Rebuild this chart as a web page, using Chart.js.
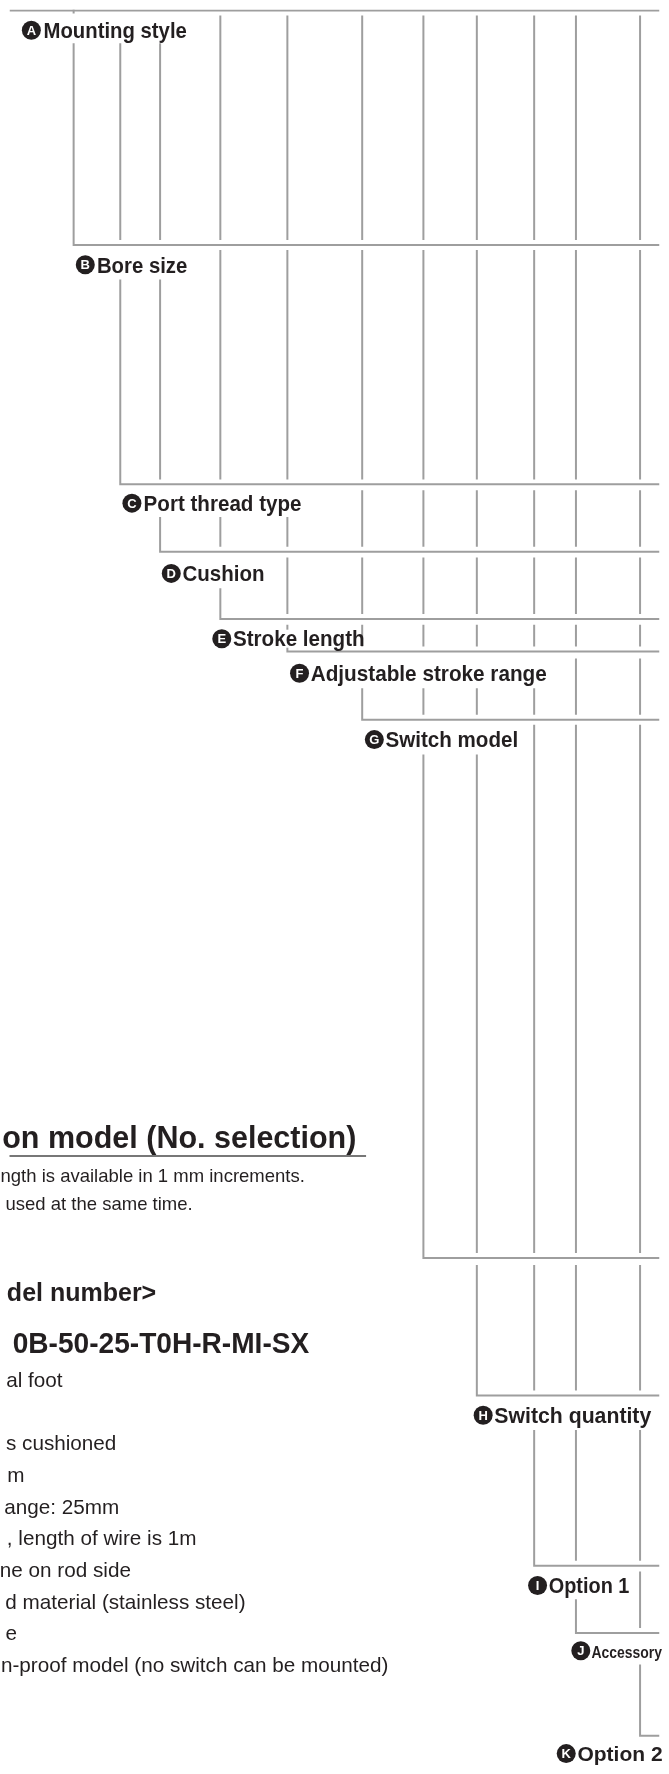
<!DOCTYPE html>
<html><head><meta charset="utf-8">
<script src="https://cdn.jsdelivr.net/npm/chart.js@4.4.1/dist/chart.umd.min.js"></script>
<style>html,body{margin:0;padding:0;background:#fff;overflow:hidden}#c{display:block}</style>
</head><body>
<canvas id="c" width="669" height="1774"></canvas>
<script>
// ---- diagram data (diagram units = 669 x 1774 grid) ----
const columnX = [66, 114, 155, 217, 286, 363, 426, 481, 540, 583, 649];
const stageLetter = ['A','B','C','D','E','F','G','','H','I','J','K'];
const stageName = ['Mounting style','Bore size','Port thread type','Cushion','Stroke length','Adjustable stroke range','Switch model','','Switch quantity','Option 1','Accessory','Option 2'];
const cornerY = [238, 480, 548, 616, 649, 718, 1262, 1401, 1573, 1641, 1745];
const openStartY = [6, 243, 486, 554, 622, 656, 723, 1269, 1407, 1579, 1647];
const coveredStartY = [34, 273, 513, 585, 622, 686, 753, 1269, 1436, 1607, 1673];
const labelCenterY = [21, 258, 499, 570, 636, 671, 738, null, 1421, 1593, 1659, 1763];
const labelTextLeft = [35, 90, 138, 178, 230, 310, 387, null, 499, 555, 599, 584.5];
const labelTextRight = [182.5, 183, 300.5, 262.5, 365.5, 553, 523.5, null, 660.5, 638, null, null];
const badgeX = [22.5, 78, 126, 166.5, 218.5, 298.5, 375.5, null, 487.5, 543.5, 588, 573];
const topLineY = 1, topTickEndY = 4, rightEdgeX = 669;

const headingText = 'on model (No. selection)';
const headingRight = 357, headingY = 1140, underlineY = 1159, underlineRight = 367;
const noteLines = ['ngth is available in 1 mm increments.', 'used at the same time.'];
const noteRight = [304, 188.5];
const noteY = [1179, 1207];
const captionText = 'del number>';
const captionRight = 151, captionY = 1297;
const modelNumber = '0B-50-25-T0H-R-MI-SX';
const modelLeft = 3.3, modelRight = 308.5, modelY = 1347;
const exampleLines = ['al foot', 's cushioned', 'm', 'ange: 25mm', ', length of wire is 1m', 'ne on rod side', 'd material (stainless steel)', 'e', 'n-proof model (no switch can be mounted)'];
const exampleRight = [54.6, 110, 15.5, 113, 192.5, 125, 243, 7.7, 390];
const exampleY = [1385, 1449, 1481, 1513, 1545, 1577, 1609, 1641, 1673];

// ---- build line segments ----
const LINE = '#9e9e9e';
const segs = [];
segs.push([{x:0,y:topLineY},{x:rightEdgeX,y:topLineY}]);
segs.push([{x:columnX[0],y:0},{x:columnX[0],y:topTickEndY}]);
for (let s = 0; s < cornerY.length; s++) {
  const hasLabel = labelCenterY[s] !== null;
  const covL = hasLabel ? badgeX[s] - 10 : Infinity;
  const covR = hasLabel ? (labelTextRight[s] === null ? Infinity : labelTextRight[s] + 2) : -Infinity;
  for (let c = s; c < columnX.length; c++) {
    const x = columnX[c];
    const covered = x >= covL && x <= covR;
    const y0 = covered ? coveredStartY[s] : openStartY[s];
    if (c === s) segs.push([{x,y:y0},{x,y:cornerY[s]},{x:rightEdgeX,y:cornerY[s]}]);
    else segs.push([{x,y:y0},{x,y:cornerY[s]-5}]);
  }
}
const datasets = segs.map(pts => ({
  data: pts, showLine: true, borderColor: LINE, borderWidth: 2, pointRadius: 0,
  borderJoinStyle: 'miter', borderCapStyle: 'butt', tension: 0, fill: false
}));
const badgePts = [];
stageLetter.forEach((L, i) => { if (L) badgePts.push({x: badgeX[i], y: labelCenterY[i], L}); });
datasets.push({data: badgePts, showLine: false, pointRadius: 9.5, pointHoverRadius: 9.5,
  pointBackgroundColor: '#231f20', pointBorderWidth: 0, order: -1});

const TXT = '#231f20';
const FONT = '"Liberation Sans", Arial, sans-serif';
function fit(ctx, text, left, right, y, font, sx) {
  ctx.font = font;
  const w = ctx.measureText(text).width;
  const k = (right !== null && right !== undefined) ? (right - left) / w : (sx || 1);
  ctx.save(); ctx.translate(left, y); ctx.scale(k, 1); ctx.textAlign = 'left'; ctx.fillText(text, 0, 0); ctx.restore();
}
function rtext(ctx, text, right, y, font) {
  ctx.font = font; ctx.textAlign = 'right'; ctx.fillText(text, right, y);
}
const textPlugin = {
  id: 'texts',
  afterDatasetsDraw(chart) {
    const ctx = chart.ctx, X = v => chart.scales.x.getPixelForValue(v), Y = v => chart.scales.y.getPixelForValue(v);
    ctx.save();
    // badge letters
    ctx.fillStyle = '#fff'; ctx.textAlign = 'center'; ctx.textBaseline = 'middle';
    ctx.font = 'bold 13px ' + FONT;
    badgePts.forEach(p => ctx.fillText(p.L, X(p.x), Y(p.y) + 1));
    ctx.textBaseline = 'alphabetic';
    // stage labels
    ctx.fillStyle = TXT;
    stageName.forEach((n, i) => {
      if (!n) return;
      const base = Y(labelCenterY[i]) + 7.8;
      if (i === 4) { ctx.fillStyle = '#fff'; ctx.fillRect(X(labelTextLeft[i]) - 1, Y(labelCenterY[i]) - 9, X(columnX[4]) - X(labelTextLeft[i]) + 6, 18); ctx.fillStyle = TXT; }
      if (n === 'Accessory') fit(ctx, n, X(labelTextLeft[i]), null, base - 0.5, 'bold 17px ' + FONT, 0.82);
      else if (labelTextRight[i] === null) fit(ctx, n, X(labelTextLeft[i]), null, base, 'bold 21px ' + FONT, 1);
      else fit(ctx, n, X(labelTextLeft[i]), X(labelTextRight[i]), base, 'bold 22px ' + FONT);
    });
    // left text block
    rtext(ctx, headingText, X(headingRight), Y(headingY) + 11, 'bold 30.5px ' + FONT);
    ctx.strokeStyle = '#4a4a4a'; ctx.lineWidth = 1.5;
    ctx.beginPath(); ctx.moveTo(X(0), Y(underlineY)); ctx.lineTo(X(underlineRight), Y(underlineY)); ctx.stroke();
    noteLines.forEach((t, i) => rtext(ctx, t, X(noteRight[i]), Y(noteY[i]) + 6.5, '18.5px ' + FONT));
    rtext(ctx, captionText, X(captionRight), Y(captionY) + 8.5, 'bold 25px ' + FONT);
    fit(ctx, modelNumber, X(modelLeft), X(modelRight), Y(modelY) + 10.5, 'bold 29px ' + FONT);
    exampleLines.forEach((t, i) => rtext(ctx, t, X(exampleRight[i]), Y(exampleY[i]) + 7.5, '20.7px ' + FONT));
    ctx.restore();
  }
};

new Chart(document.getElementById('c'), {
  type: 'scatter',
  data: { datasets },
  options: {
    responsive: false, animation: false, events: [],
    layout: { padding: 0 },
    plugins: { legend: { display: false }, tooltip: { enabled: false } },
    scales: {
      x: { type: 'linear', min: 0, max: 669, display: false },
      y: { type: 'linear', min: 0, max: 1774, reverse: true, display: false }
    }
  },
  plugins: [textPlugin]
});
</script>
</body></html>
